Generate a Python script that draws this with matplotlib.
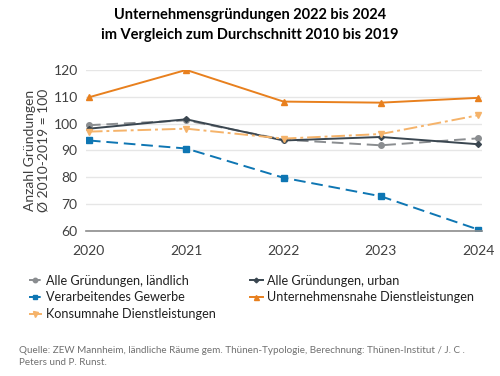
import matplotlib
matplotlib.use("Agg")
import matplotlib.pyplot as plt

plt.rcParams['font.family'] = ['Lato', 'DejaVu Sans']

years = [2020, 2021, 2022, 2023, 2024]
laendlich = [99.4, 101.2, 94.0, 91.9, 94.5]
urban = [98.1, 101.6, 93.7, 95.0, 92.3]
verarbeitend = [93.7, 90.7, 79.8, 72.9, 60.5]
unternehmensnah = [109.8, 120.0, 108.2, 107.8, 109.6]
konsumnah = [97.0, 98.1, 94.4, 96.1, 103.1]

labels = ["Alle Gründungen, ländlich", "Alle Gründungen, urban", "Verarbeitendes Gewerbe",
          "Unternehmensnahe Dienstleistungen", "Konsumnahe Dienstleistungen"]
yticks = [60, 70, 80, 90, 100, 110, 120]

fig = plt.figure(figsize=(5.0, 3.76), dpi=100)
ax = fig.add_axes([0.172, 0.386, 0.792, 0.428])

l1, = ax.plot(years, laendlich, color="#8A8D90", ls=(0, (6, 3)), lw=1.4, marker="o", ms=4, label=labels[0])
l2, = ax.plot(years, urban, color="#3A4650", ls="-", lw=1.4, marker="D", ms=3, label=labels[1])
l3, = ax.plot(years, verarbeitend, color="#0E76B3", ls=(0, (6, 3)), lw=1.4, marker="s", ms=4, label=labels[2])
l4, = ax.plot(years, unternehmensnah, color="#E8801E", ls="-", lw=1.4, marker="^", ms=4.5, label=labels[3])
l5, = ax.plot(years, konsumnah, color="#F5B36A", ls=(0, (7, 2, 1.5, 2)), lw=1.4, marker="v", ms=4.5, label=labels[4])

ax.set_xlim(2019.97, 2024.04)
ax.set_ylim(60, 120)
ax.set_yticks(yticks)
ax.set_xticks(years)
ax.yaxis.grid(True, color="#E6E6E6", lw=1)
ax.set_axisbelow(True)
for s in ["top", "right", "left"]:
    ax.spines[s].set_visible(False)
ax.spines["bottom"].set_color("#8C8C8C")
ax.spines["bottom"].set_linewidth(1.2)
ax.tick_params(axis="both", length=0, labelsize=10, colors="#404040", pad=6)
ax.tick_params(axis="x", pad=10)
ax.set_ylabel("Anzahl Gründungen\nØ 2010-2019 = 100", fontsize=10, color="#404040", labelpad=3, linespacing=1.1)

fig.text(0.5, 0.978, "Unternehmensgründungen 2022 bis 2024\nim Vergleich zum Durchschnitt 2010 bis 2019",
         ha="center", va="top", fontsize=10.5, fontweight="bold", color="#000000", linespacing=1.5)

fig.legend(handles=[l1, l3, l5, l2, l4], loc="upper left", bbox_to_anchor=(0.035, 0.30),
           ncol=2, frameon=False, fontsize=9.1, handlelength=1.0, handletextpad=0.35,
           columnspacing=2.7, labelspacing=0.38, labelcolor="#202020", markerscale=0.8)

fig.text(0.038, 0.025, "Quelle: ZEW Mannheim, ländliche Räume gem. Thünen-Typologie, Berechnung: Thünen-Institut / J. C .\nPeters und P. Runst.",
         ha="left", va="bottom", fontsize=7.1, color="#707070", linespacing=1.4)

fig.savefig("out.png", dpi=100)
